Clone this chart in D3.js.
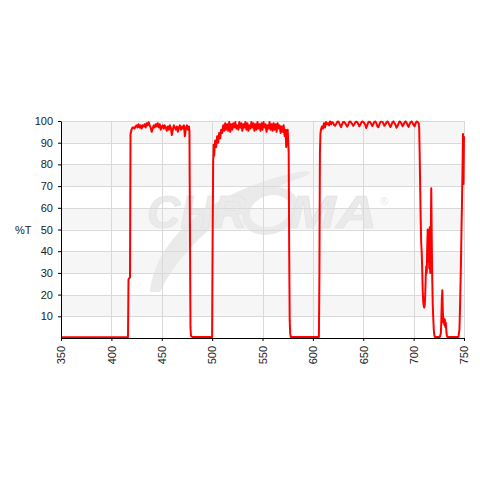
<!DOCTYPE html>
<html><head><meta charset="utf-8">
<script src="https://cdn.jsdelivr.net/npm/d3@7"></script>
<style>
html,body{margin:0;padding:0;background:#fff;}
svg{display:block;}
text{font-family:"Liberation Sans",Arial,sans-serif;}
</style></head>
<body>
<script>
// ---- data ----
const xTicks = [350,400,450,500,550,600,650,700,750];
const yTicks = [10,20,30,40,50,60,70,80,90,100];
const yLabel = "%T";
const wavelength = [
350,380,416.5,417,418.5,419,420,421,422,423,424,425,426,427,428,429,430,431,432,433,434,435,436,437,438,439,440,441,442,443,444,445,446,447,448,449,450,451,452,453,454,455,456,457,458,459,460,461,462,463,464,465,466,467,468,469,470,471,472,473,474,475,476,477,477.5,478,478.5,479,480,
500,500.5,501,501.5,502,503,504,505,506,507,508,509,510,511,512,513,514,515,516,517,518,519,520,521,522,523,524,525,526,527,528,529,530,531,532,533,534,535,536,537,538,539,540,541,542,543,544,545,546,547,548,549,550,551,552,553,554,555,556,557,558,559,560,561,562,563,564,565,566,567,568,569,570,571,572,573,573.5,574,574.5,575,575.5,576,576.5,577,577.5,578,
606,606.5,607,607.5,608,609,610,611,612,613,614,615,616,617,618,619,620,621,622,623,624,625,626,627,628,629,630,631,632,633,634,635,636,637,638,639,640,641,642,643,644,645,646,647,648,649,650,651,652,653,654,655,656,657,658,659,660,661,662,663,664,665,666,667,668,669,670,671,672,673,674,675,676,677,678,679,680,681,682,683,684,685,686,687,688,689,690,691,692,693,694,695,696,697,698,699,700,701,702,703,704,705,705.5,706,706.5,707,707.5,708,708.5,709,709.5,710,710.5,711,711.5,712,712.5,713,713.5,714,714.5,715,715.5,716,716.5,717,717.5,718,718.5,719,719.5,720,720.5,721,721.5,722,726,727,727.5,728,728.5,729,729.5,730,730.5,731,731.5,732,732.5,733,733.5,744.5,745.5,746,747,747.5,748,748.5,749,749.5,750
];
const transmission = [
0.4,0.4,0.4,27,28,94,96,97,97,96.5,97.5,98,97,98.5,97,98,96.5,98,97.5,98.5,97,99,98,99.5,98,97,95,96.5,98,97,98.5,97.5,99,97,98.5,96,97.5,98,96.5,98,97,95.5,97.5,96,98,97,93.5,96,98,97,96,97.5,95,97,98,96,97.5,96.5,98,93,97,98,96,97.5,95,50,5,1,0.5,
0.5,45,80,89,84,91,88,93,90,94.5,92,96,94.5,98,95.5,99,96,98.5,95.5,99.5,95,98.5,96,99,97,99.5,96.5,98,96,99.5,97,99,95.5,98.5,97,99.5,96,99,95.5,98,96.5,99.5,97,99,95.5,98.5,96,99.5,96.5,98.5,95.5,99,96,99.5,97,98.5,95,98,96.5,99.5,96,98.5,95.5,99,96,98.5,95,99,96.5,98,94.5,97.5,95,98,93,96,88,95,89,96,91,85,40,8,2,0.5,
0.5,30,85,94,96,97.5,96.5,99,97,99.5,98.5,99,98,99.8,98.5,99.5,99.2,98.2,97.8,98.5,99.5,99.8,99.2,98,97.2,98.5,99.5,99.6,99.1,98.3,97.4,98.2,99.5,99.8,99.3,98.6,97.8,98.4,99.4,99.7,99.5,98.7,97.6,98.1,99.3,99.8,99.6,99.1,98.2,96.8,98.1,99.4,99.7,99.5,98.6,97.7,98.6,99.6,99.8,99.1,97.6,97.1,98.4,99.5,99.7,99.6,98.8,97.8,98.4,99.3,99.8,99.2,98.1,97.2,98.3,99.4,99.8,99.1,98.2,96.9,97.6,98.8,99.8,99.5,98.7,97.6,98.4,99.4,99.8,99.2,98.1,97.3,98.6,99.4,99.8,99.1,98.1,97.6,99,99.8,99.5,99,97,85,70,55,44,40,32,22,17,15,14,15,20,28,33,30,42,50,35,48,32,51,30,45,69,45,27,15,9,4,1.5,0.5,0.5,0.5,0.5,2,8,18,22,12,7,9,6,8.5,5,7,3,1,0.5,0.5,4,13,35,50,62,77,94,71,93
];

// ---- chart ----
const W = 480, H = 480;
const svg = d3.select("body").append("svg").attr("width", W).attr("height", H);
const x = d3.scaleLinear().domain([350, 750]).range([61, 464]);
const y = d3.scaleLinear().domain([0, 100]).range([338, 121]);

// alternating background bands
const bands = d3.range(0, 100, 10);
svg.append("g").selectAll("rect").data(bands).join("rect")
  .attr("x", x(350)).attr("width", x(750) - x(350))
  .attr("y", d => y(d + 10)).attr("height", d => y(d) - y(d + 10))
  .attr("fill", d => (d / 10) % 2 === 1 ? "#f6f6f6" : "#ffffff");

// watermark
const wmCol = "#eaeaea";
const wm = svg.append("g").attr("fill", wmCol);
wm.append("path")
  .attr("d", "M150,292 C156,236 214,190 298,172 C310,170 314,172 306,176 C244,196 186,238 160,292 Z");
wm.append("text").attr("x", 147).attr("y", 228).attr("font-size", 46)
  .attr("font-weight", "bold").attr("font-style", "italic")
  .attr("stroke", "#e2e2e2").attr("stroke-width", 0.6)
  .attr("textLength", 100).attr("lengthAdjust", "spacingAndGlyphs").text("CHR");
wm.append("ellipse").attr("cx", 270).attr("cy", 211).attr("rx", 24).attr("ry", 20)
  .attr("fill", "none").attr("stroke", wmCol).attr("stroke-width", 8)
  .attr("transform", "skewX(-12) translate(45,0)");
wm.append("text").attr("x", 289).attr("y", 228).attr("font-size", 46)
  .attr("font-weight", "bold").attr("font-style", "italic")
  .attr("stroke", "#e2e2e2").attr("stroke-width", 0.6)
  .attr("textLength", 88).attr("lengthAdjust", "spacingAndGlyphs").text("MA");
wm.append("text").attr("x", 380).attr("y", 205).attr("font-size", 11).text("®");

// gridlines
const grid = svg.append("g").attr("stroke", "#d9d9d9").attr("stroke-width", 1);
grid.selectAll("line.v").data(xTicks.slice(1)).join("line").attr("class", "v")
  .attr("x1", d => Math.round(x(d)) + 0.5).attr("x2", d => Math.round(x(d)) + 0.5)
  .attr("y1", y(0)).attr("y2", y(100));
grid.selectAll("line.h").data(yTicks).join("line").attr("class", "h")
  .attr("y1", d => Math.round(y(d)) + 0.5).attr("y2", d => Math.round(y(d)) + 0.5)
  .attr("x1", x(350)).attr("x2", x(750));

// curve
const pts = wavelength.map((w, i) => [w, transmission[i]]);
svg.append("path").datum(pts)
  .attr("fill", "none").attr("stroke", "#ff0000").attr("stroke-width", 2)
  .attr("stroke-linejoin", "round")
  .attr("d", d3.line().x(d => x(d[0])).y(d => y(d[1])));

// axes
const yAxis = svg.append("g").attr("transform", `translate(${x(350)},0)`)
  .call(d3.axisLeft(y).tickValues(yTicks).tickSize(3).tickPadding(5).tickSizeOuter(0));
const xAxis = svg.append("g").attr("transform", `translate(0,${y(0)})`)
  .call(d3.axisBottom(x).tickValues(xTicks).tickSize(3).tickSizeOuter(0));
[yAxis, xAxis].forEach(g => {
  g.selectAll("path.domain").attr("stroke", "#000");
  g.selectAll(".tick line").attr("stroke", "#000");
  g.selectAll("text").attr("font-size", 11).attr("fill", "#222")
    .attr("font-family", "'Liberation Sans',Arial,sans-serif");
});
xAxis.selectAll(".tick text")
  .attr("transform", "rotate(-90)")
  .attr("text-anchor", "end")
  .attr("x", -8).attr("y", 0).attr("dy", "0.35em");

svg.append("text").attr("x", 15).attr("y", 234).attr("font-size", 11)
  .attr("fill", "#222").text(yLabel);
</script>
</body></html>
